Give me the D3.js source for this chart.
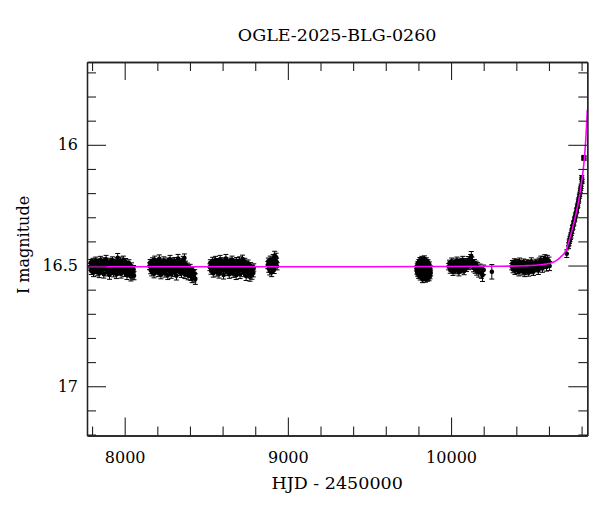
<!DOCTYPE html>
<html><head><meta charset="utf-8">
<script src="https://cdn.jsdelivr.net/npm/d3@7"></script>
<style>
body{margin:0;background:#fff;}
svg{display:block;}
text{font-family:"DejaVu Serif",serif;fill:#000;}
</style></head>
<body>
<svg id="chart" width="600" height="512"></svg>
<script>
const title = "OGLE-2025-BLG-0260";
const xLabel = "HJD - 2450000";
const yLabel = "I magnitude";
const xDomain = [7769, 10835];
const yDomain = [15.657, 17.204];
const xMajorTicks = [8000, 9000, 10000];
const xMinorTicks = [7800, 8200, 8400, 8600, 8800, 9200, 9400, 9600, 9800, 10200, 10400, 10600, 10800];
const yMajorTicks = [16, 16.5, 17];
const yMinorTicks = [15.7, 15.8, 15.9, 16.1, 16.2, 16.3, 16.4, 16.6, 16.7, 16.8, 16.9, 17.1, 17.2];

// [HJD-2450000, I mag, error]
const season2017 = [[7788,16.505,.014],[7792,16.488,.013],[7795,16.522,.015],[7799,16.497,.012],[7802,16.512,.014],[7806,16.483,.013],[7809,16.530,.016],[7813,16.501,.013],[7816,16.492,.012],[7820,16.518,.015],[7823,16.479,.014],[7827,16.509,.013],[7830,16.527,.016],[7834,16.495,.012],[7837,16.486,.013],[7841,16.514,.014],[7844,16.533,.017],[7848,16.499,.013],[7851,16.477,.015],[7855,16.507,.012],[7858,16.521,.014],[7862,16.490,.013],[7865,16.512,.015],[7869,16.481,.013],[7872,16.536,.016],[7876,16.503,.012],[7879,16.494,.013],[7883,16.516,.014],[7886,16.474,.016],[7890,16.508,.013],[7893,16.528,.015],[7897,16.489,.012],[7900,16.511,.014],[7904,16.497,.013],[7907,16.539,.018],[7911,16.484,.014],[7914,16.506,.012],[7918,16.523,.015],[7921,16.492,.013],[7925,16.478,.014],[7928,16.515,.013],[7932,16.531,.016],[7935,16.500,.012],[7939,16.487,.013],[7942,16.519,.015],[7946,16.496,.012],[7949,16.537,.017],[7953,16.482,.014],[7957,16.468,.018],[7960,16.510,.013],[7964,16.525,.015],[7967,16.493,.012],[7971,16.513,.014],[7974,16.480,.015],[7978,16.534,.018],[7981,16.504,.013],[7985,16.491,.012],[7988,16.520,.014],[7992,16.476,.015],[7995,16.509,.013],[7999,16.529,.016],[8002,16.498,.013],[8006,16.485,.014],[8010,16.517,.015],[8014,16.540,.018],[8018,16.502,.013],[8022,16.522,.015],[8026,16.490,.014],[8030,16.531,.016],[8034,16.512,.014],[8038,16.545,.019],[8042,16.503,.014],[8046,16.526,.016],[8050,16.538,.018],[8054,16.515,.015],[8057,16.542,.017]];
const season2018 = [[8152,16.503,.014],[8156,16.488,.013],[8159,16.519,.015],[8163,16.495,.012],[8166,16.527,.016],[8170,16.482,.014],[8173,16.510,.013],[8177,16.498,.012],[8180,16.534,.017],[8184,16.476,.015],[8187,16.507,.013],[8191,16.521,.014],[8194,16.491,.012],[8198,16.513,.015],[8201,16.485,.013],[8205,16.530,.016],[8208,16.500,.012],[8212,16.472,.016],[8215,16.516,.014],[8219,16.493,.013],[8222,16.538,.017],[8226,16.505,.012],[8229,16.487,.014],[8233,16.524,.015],[8236,16.497,.012],[8240,16.479,.015],[8243,16.511,.013],[8247,16.532,.016],[8250,16.490,.013],[8254,16.518,.014],[8257,16.502,.012],[8261,16.483,.014],[8264,16.540,.018],[8268,16.508,.013],[8271,16.495,.012],[8275,16.523,.015],[8278,16.474,.016],[8282,16.513,.013],[8285,16.536,.017],[8289,16.499,.012],[8292,16.486,.014],[8296,16.520,.015],[8299,16.504,.012],[8303,16.529,.016],[8306,16.481,.014],[8310,16.511,.013],[8313,16.494,.012],[8317,16.542,.018],[8320,16.515,.014],[8324,16.489,.013],[8327,16.471,.017],[8331,16.506,.012],[8334,16.526,.015],[8338,16.497,.013],[8341,16.517,.014],[8345,16.484,.014],[8348,16.533,.016],[8352,16.501,.012],[8355,16.492,.013],[8359,16.478,.016],[8362,16.522,.015],[8366,16.469,.017],[8369,16.537,.017],[8373,16.495,.013],[8377,16.514,.014],[8381,16.528,.016],[8385,16.503,.013],[8389,16.541,.018],[8393,16.518,.015],[8397,16.531,.016],[8401,16.509,.014],[8405,16.544,.018],[8409,16.525,.016],[8413,16.552,.019],[8417,16.520,.015],[8421,16.538,.017],[8425,16.549,.019],[8429,16.533,.016],[8433,16.556,.022]];
const season2019 = [[8522,16.507,.014],[8525,16.489,.013],[8529,16.521,.015],[8532,16.496,.012],[8536,16.514,.014],[8539,16.480,.014],[8543,16.532,.016],[8546,16.502,.012],[8550,16.491,.013],[8553,16.518,.015],[8557,16.477,.015],[8560,16.509,.013],[8564,16.528,.016],[8567,16.494,.012],[8571,16.485,.014],[8574,16.515,.014],[8578,16.535,.017],[8581,16.500,.012],[8585,16.474,.016],[8588,16.508,.013],[8592,16.522,.015],[8595,16.490,.013],[8599,16.512,.014],[8602,16.482,.014],[8606,16.539,.017],[8609,16.504,.012],[8613,16.493,.013],[8616,16.517,.014],[8620,16.471,.017],[8623,16.510,.013],[8627,16.527,.015],[8630,16.488,.013],[8634,16.513,.014],[8637,16.498,.012],[8641,16.536,.017],[8644,16.483,.014],[8648,16.506,.012],[8651,16.524,.015],[8655,16.492,.013],[8658,16.476,.015],[8662,16.516,.014],[8665,16.533,.016],[8669,16.501,.012],[8672,16.486,.013],[8676,16.520,.015],[8679,16.497,.012],[8683,16.540,.018],[8686,16.481,.014],[8690,16.507,.013],[8693,16.525,.015],[8697,16.494,.012],[8700,16.512,.014],[8704,16.479,.015],[8707,16.537,.017],[8711,16.503,.013],[8714,16.490,.012],[8718,16.519,.015],[8722,16.473,.016],[8725,16.509,.013],[8729,16.530,.016],[8732,16.499,.013],[8736,16.484,.014],[8740,16.516,.015],[8744,16.543,.019],[8748,16.505,.013],[8752,16.523,.015],[8756,16.491,.014],[8760,16.534,.017],[8764,16.511,.014],[8768,16.546,.019],[8772,16.502,.014],[8776,16.527,.016],[8780,16.539,.018],[8784,16.514,.015],[8788,16.531,.016],[8791,16.508,.015]];
const season2020 = [[8877,16.498,.015],[8880,16.483,.014],[8883,16.512,.016],[8886,16.490,.013],[8889,16.522,.017],[8892,16.476,.015],[8895,16.505,.014],[8898,16.494,.013],[8901,16.528,.018],[8904,16.485,.014],[8907,16.510,.015],[8910,16.470,.016],[8913,16.499,.013],[8916,16.517,.016],[8919,16.460,.019],[8922,16.491,.014],[8925,16.478,.015],[8928,16.466,.017],[8931,16.486,.016],[8934,16.503,.015]];
const season2022 = [[9789,16.512,.010],[9791,16.525,.011],[9793,16.500,.010],[9795,16.532,.012],[9797,16.493,.010],[9799,16.518,.011],[9801,16.541,.012],[9803,16.486,.011],[9805,16.508,.010],[9807,16.528,.011],[9809,16.478,.011],[9811,16.547,.013],[9813,16.503,.010],[9815,16.521,.011],[9817,16.490,.010],[9819,16.536,.012],[9821,16.474,.012],[9823,16.512,.010],[9825,16.558,.013],[9827,16.497,.010],[9829,16.527,.011],[9831,16.483,.011],[9833,16.545,.012],[9835,16.506,.010],[9837,16.472,.012],[9839,16.532,.011],[9841,16.517,.010],[9843,16.556,.013],[9845,16.488,.011],[9847,16.524,.011],[9849,16.479,.011],[9851,16.540,.012],[9853,16.502,.010],[9855,16.552,.013],[9857,16.515,.011],[9859,16.487,.011],[9861,16.535,.012],[9863,16.509,.010],[9865,16.550,.013],[9867,16.496,.011],[9869,16.528,.011],[9871,16.543,.012],[9873,16.512,.011],[9875,16.531,.012]];
const season2023 = [[9985,16.505,.013],[9990,16.490,.012],[9995,16.518,.014],[10000,16.498,.012],[10004,16.482,.013],[10008,16.512,.013],[10012,16.526,.015],[10016,16.494,.012],[10020,16.507,.013],[10024,16.486,.013],[10028,16.520,.014],[10032,16.500,.012],[10036,16.479,.014],[10040,16.513,.013],[10044,16.495,.012],[10048,16.528,.015],[10052,16.488,.013],[10056,16.509,.013],[10060,16.484,.014],[10064,16.517,.014],[10068,16.499,.012],[10072,16.477,.015],[10076,16.506,.013],[10080,16.523,.015],[10085,16.492,.013],[10090,16.485,.014],[10095,16.511,.014],[10100,16.496,.013],[10105,16.478,.015],[10110,16.503,.014],[10115,16.488,.014],[10120,16.470,.016],[10124,16.462,.020],[10128,16.481,.016],[10133,16.497,.015],[10138,16.510,.016],[10143,16.490,.015],[10148,16.515,.017],[10153,16.498,.016],[10158,16.522,.018],[10163,16.505,.017],[10170,16.528,.020],[10178,16.512,.018],[10186,16.531,.022],[10193,16.540,.026],[10200,16.518,.020],[10250,16.526,.030]];
const season2024 = [[10372,16.505,.013],[10376,16.491,.012],[10380,16.516,.014],[10384,16.498,.012],[10388,16.485,.013],[10392,16.522,.015],[10396,16.502,.012],[10400,16.510,.013],[10404,16.488,.013],[10408,16.519,.014],[10412,16.496,.012],[10416,16.527,.016],[10420,16.483,.014],[10424,16.507,.012],[10428,16.514,.014],[10432,16.493,.012],[10436,16.524,.015],[10440,16.500,.012],[10444,16.486,.013],[10448,16.517,.014],[10452,16.530,.016],[10456,16.497,.012],[10460,16.511,.013],[10464,16.489,.013],[10468,16.521,.015],[10472,16.504,.012],[10476,16.528,.016],[10480,16.492,.013],[10484,16.515,.014],[10488,16.500,.012],[10492,16.482,.014],[10496,16.519,.015],[10500,16.506,.013],[10505,16.525,.016],[10510,16.494,.013],[10515,16.512,.014],[10520,16.487,.013],[10525,16.509,.014],[10530,16.498,.013],[10535,16.521,.016],[10540,16.483,.014],[10545,16.503,.014],[10550,16.476,.015],[10555,16.493,.014],[10560,16.512,.016],[10565,16.478,.015],[10570,16.497,.015],[10575,16.471,.016],[10580,16.489,.015],[10585,16.506,.017],[10590,16.474,.016],[10595,16.492,.016],[10600,16.483,.018],[10604,16.502,.019]];
const season2025 = [[10709,16.451,.016],[10720,16.418,.012],[10723,16.406,.012],[10726,16.398,.011],[10729,16.390,.011],[10732,16.381,.011],[10735,16.375,.011],[10738,16.364,.011],[10741,16.357,.010],[10744,16.344,.010],[10747,16.340,.010],[10750,16.327,.010],[10753,16.323,.010],[10756,16.310,.010],[10759,16.306,.010],[10762,16.293,.010],[10765,16.289,.010],[10768,16.275,.010],[10771,16.270,.010],[10774,16.255,.009],[10777,16.250,.009],[10780,16.234,.009],[10783,16.228,.009],[10786,16.213,.009],[10789,16.205,.009],[10792,16.188,.009],[10795,16.180,.009],[10797,16.172,.009],[10801,16.135,.008],[10802,16.146,.008],[10803,16.152,.008],[10812,16.055,.008],[10814,16.052,.008],[10816,16.056,.008]];

// model curve
const modelHJD = [7769, 8500, 9500, 10000, 10300, 10450, 10550, 10600, 10640, 10670, 10690, 10705, 10720, 10736, 10750, 10766, 10786, 10797, 10807, 10815, 10821, 10826, 10830, 10833, 10835];
const modelMag = [16.505, 16.505, 16.505, 16.504, 16.503, 16.501, 16.497, 16.492, 16.482, 16.466, 16.452, 16.437, 16.405, 16.368, 16.330, 16.285, 16.217, 16.168, 16.120, 16.072, 16.024, 15.975, 15.925, 15.885, 15.855];

const seasons = [season2017, season2018, season2019, season2020, season2022, season2023, season2024, season2025];

const W = 600, H = 512;
const m = {left: 87, right: 12.7, top: 62, bottom: 76.5};
const svg = d3.select("#chart");
const x = d3.scaleLinear().domain(xDomain).range([m.left, W - m.right]);
const y = d3.scaleLinear().domain(yDomain).range([m.top, H - m.bottom]);

svg.append("clipPath").attr("id","clip").append("rect")
  .attr("x", m.left).attr("y", m.top).attr("width", W-m.left-m.right).attr("height", H-m.top-m.bottom);

// data points with error bars
const pts = seasons.flat();
const g = svg.append("g").attr("clip-path","url(#clip)");
const eb = g.append("g").attr("stroke","#000").attr("stroke-width",1);
eb.selectAll("line.v").data(pts).join("line").attr("class","v")
  .attr("x1", d=>x(d[0])).attr("x2", d=>x(d[0]))
  .attr("y1", d=>y(d[1]-d[2])).attr("y2", d=>y(d[1]+d[2]));
eb.selectAll("line.t").data(pts).join("line").attr("class","t")
  .attr("x1", d=>x(d[0])-2.5).attr("x2", d=>x(d[0])+2.5)
  .attr("y1", d=>y(d[1]-d[2])).attr("y2", d=>y(d[1]-d[2]));
eb.selectAll("line.b").data(pts).join("line").attr("class","b")
  .attr("x1", d=>x(d[0])-2.5).attr("x2", d=>x(d[0])+2.5)
  .attr("y1", d=>y(d[1]+d[2])).attr("y2", d=>y(d[1]+d[2]));
g.append("g").selectAll("circle").data(pts).join("circle")
  .attr("cx", d=>x(d[0])).attr("cy", d=>y(d[1])).attr("r", 2.3).attr("fill","#000");

// model
const model = modelHJD.map((t,i)=>[t, modelMag[i]]);
g.append("path").datum(model)
  .attr("fill","none").attr("stroke","#ff00ff").attr("stroke-width",1.6)
  .attr("d", d3.line().x(d=>x(d[0])).y(d=>y(d[1])).curve(d3.curveMonotoneX));

// axes
const axisColor = "#222";
function style(sel){
  sel.selectAll(".domain").attr("stroke", axisColor).attr("stroke-width",1.3);
  sel.selectAll(".tick line").attr("stroke", axisColor).attr("stroke-width",1.1);
  sel.selectAll("text").attr("font-family","DejaVu Serif").attr("font-size",16).attr("fill","#000");
}
const bottomY = H - m.bottom, rightX = W - m.right;
svg.append("g").attr("transform",`translate(0,${bottomY})`)
  .call(d3.axisBottom(x).tickValues(xMajorTicks).tickSize(-18).tickSizeOuter(0).tickPadding(16.5).tickFormat(d3.format("d")))
  .call(style);
svg.append("g").attr("transform",`translate(0,${bottomY})`)
  .call(d3.axisBottom(x).tickValues(xMinorTicks).tickSize(-9).tickSizeOuter(0).tickFormat(""))
  .call(style);
svg.append("g").attr("transform",`translate(0,${m.top})`)
  .call(d3.axisTop(x).tickValues(xMajorTicks).tickSize(-18).tickSizeOuter(0).tickFormat(""))
  .call(style);
svg.append("g").attr("transform",`translate(0,${m.top})`)
  .call(d3.axisTop(x).tickValues(xMinorTicks).tickSize(-9).tickSizeOuter(0).tickFormat(""))
  .call(style);
svg.append("g").attr("transform",`translate(${m.left},0)`)
  .call(d3.axisLeft(y).tickValues(yMajorTicks).tickSize(-19).tickSizeOuter(0).tickPadding(9).tickFormat(d=>String(d)))
  .call(style);
svg.append("g").attr("transform",`translate(${m.left},0)`)
  .call(d3.axisLeft(y).tickValues(yMinorTicks).tickSize(-9).tickSizeOuter(0).tickFormat(""))
  .call(style);
svg.append("g").attr("transform",`translate(${rightX},0)`)
  .call(d3.axisRight(y).tickValues(yMajorTicks).tickSize(-19).tickSizeOuter(0).tickFormat(""))
  .call(style);
svg.append("g").attr("transform",`translate(${rightX},0)`)
  .call(d3.axisRight(y).tickValues(yMinorTicks).tickSize(-9).tickSizeOuter(0).tickFormat(""))
  .call(style);

// labels
const cx = (m.left + rightX)/2;
svg.append("text").attr("x", cx).attr("y", 40.7).attr("text-anchor","middle")
  .attr("font-size",17.5).text(title);
svg.append("text").attr("x", cx).attr("y", 489).attr("text-anchor","middle")
  .attr("font-size",17.5).text(xLabel);
svg.append("text").attr("transform",`translate(28.5,245) rotate(-90)`).attr("text-anchor","middle")
  .attr("font-size",16).text(yLabel);
</script>
</body></html>
